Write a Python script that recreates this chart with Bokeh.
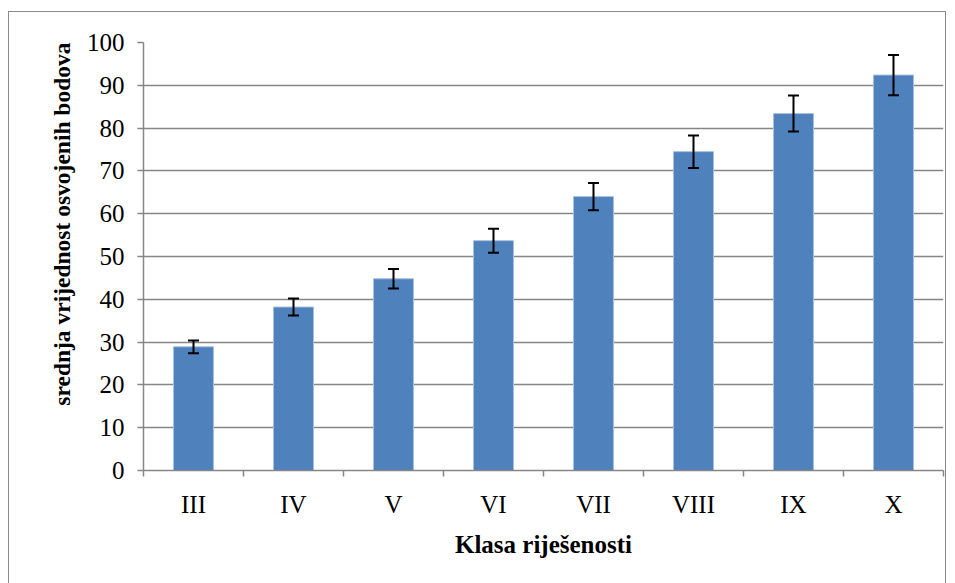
from bokeh.plotting import figure
from bokeh.models import ColumnDataSource, Range1d, FixedTicker, Whisker, TeeHead, Title
from bokeh.embed import file_html
from bokeh.resources import INLINE

categories = ["III", "IV", "V", "VI", "VII", "VIII", "IX", "X"]
means = [28.9, 38.2, 44.8, 53.7, 64.0, 74.5, 83.4, 92.4]
errors = [1.5, 2.0, 2.3, 2.8, 3.2, 3.8, 4.2, 4.7]
y_ticks = list(range(0, 101, 10))
y_title = "srednja vrijednost osvojenih bodova"
x_title = "Klasa riješenosti"

x = [i + 0.5 for i in range(len(categories))]
src = ColumnDataSource(dict(
    x=x, top=means,
    upper=[m + e for m, e in zip(means, errors)],
    lower=[m - e for m, e in zip(means, errors)],
))

GRAY = "#868686"
FONT = "Liberation Serif"

p = figure(width=938, height=575, output_backend="svg", toolbar_location=None,
           x_range=Range1d(0, len(categories)), y_range=Range1d(0, 100),
           min_border_left=134, min_border_right=4, min_border_top=30, min_border_bottom=117)
p.styles = {"border": "1px solid #8a8a8a", "margin-top": "11px", "margin-left": "8px"}
p.outline_line_color = None
p.background_fill_color = "white"
p.border_fill_color = "white"

p.vbar(x="x", top="top", width=0.4, bottom=0, source=src,
       fill_color="#4F81BD", line_color="#A7C0DE", line_width=1)

w = Whisker(base="x", upper="upper", lower="lower", source=src, level="overlay",
            line_color="black", line_width=2,
            upper_head=TeeHead(size=11, line_color="black", line_width=2),
            lower_head=TeeHead(size=11, line_color="black", line_width=2))
p.add_layout(w)

# y axis title, placed like the original (starting near the frame top)
p.add_layout(Title(text=y_title, align="right", offset=0, standoff=17,
                   text_font=FONT, text_font_style="bold", text_font_size="23.5px",
                   text_color="black"), "left")

# y axis
p.yaxis.ticker = FixedTicker(ticks=y_ticks, minor_ticks=[])
p.yaxis.axis_line_color = GRAY
p.yaxis.axis_line_width = 1.5
p.yaxis.major_tick_line_color = GRAY
p.yaxis.major_tick_line_width = 1.5
p.yaxis.major_tick_out = 6
p.yaxis.major_tick_in = 0
p.yaxis.minor_tick_line_color = None
p.yaxis.major_label_text_font = FONT
p.yaxis.major_label_text_font_size = "25px"
p.yaxis.major_label_text_color = "black"
p.yaxis.major_label_standoff = 13

# x axis
p.xaxis.ticker = FixedTicker(ticks=x, minor_ticks=list(range(len(categories) + 1)))
p.xaxis.major_label_overrides = {xx: c for xx, c in zip(x, categories)}
p.xaxis.axis_line_color = GRAY
p.xaxis.axis_line_width = 1.5
p.xaxis.major_tick_line_color = None
p.xaxis.minor_tick_line_color = GRAY
p.xaxis.minor_tick_line_width = 1.5
p.xaxis.minor_tick_out = 6
p.xaxis.minor_tick_in = 0
p.xaxis.major_label_text_font = FONT
p.xaxis.major_label_text_font_size = "25px"
p.xaxis.major_label_text_color = "black"
p.xaxis.major_label_standoff = 14
p.xaxis.axis_label = x_title
p.xaxis.axis_label_text_font = FONT
p.xaxis.axis_label_text_font_style = "bold"
p.xaxis.axis_label_text_font_size = "25px"
p.xaxis.axis_label_text_color = "black"
p.xaxis.axis_label_standoff = 10

p.xgrid.grid_line_color = None
p.ygrid.ticker = FixedTicker(ticks=y_ticks)
p.ygrid.grid_line_color = GRAY
p.ygrid.grid_line_width = 1.5

open("out.html", "w").write(file_html(p, INLINE))
